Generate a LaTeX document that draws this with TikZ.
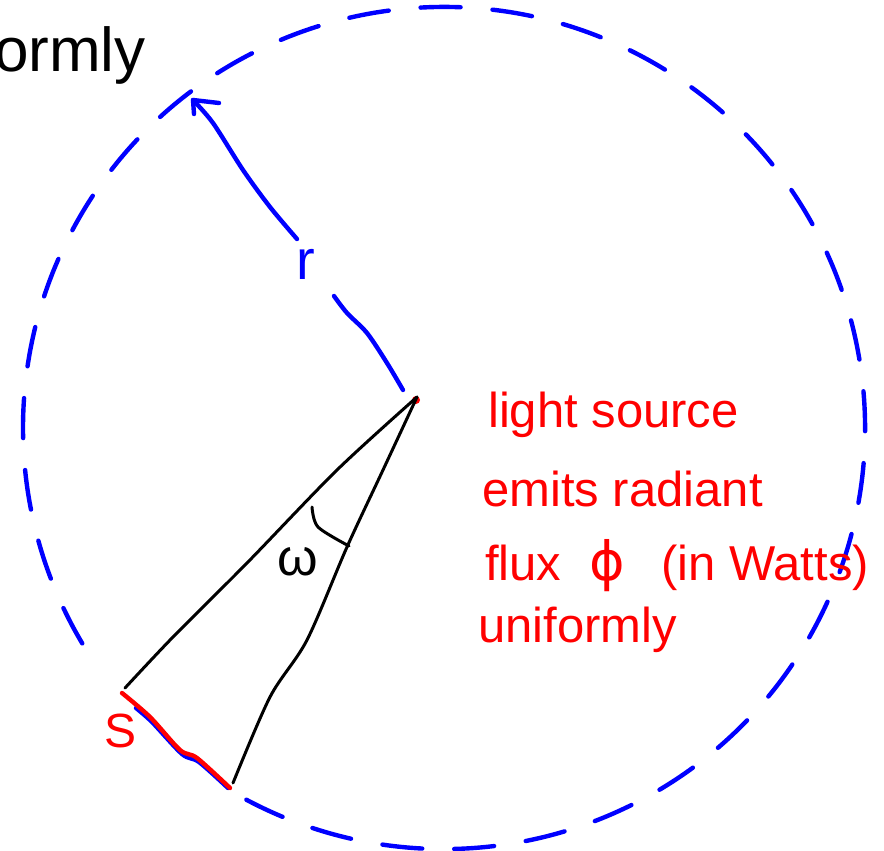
\documentclass[tikz,border=0pt]{standalone}
\usepackage{fontspec}
\setmainfont{Liberation Sans}
\newfontfamily\djsans{DejaVu Sans}
\definecolor{penblue}{RGB}{0,0,255}
\definecolor{penred}{RGB}{255,0,0}
\begin{document}
\begin{tikzpicture}[x=1pt,y=-1pt,line cap=round,line join=round,
  bluepen/.style={draw=penblue,line width=4.4pt},
  blackpen/.style={draw=black,line width=3pt},
  redpen/.style={draw=penred,line width=4.4pt},
  redtext/.style={text=penred,font=\fontsize{49}{60}\selectfont,anchor=base west,inner sep=0pt},
  handlabel/.style={inner sep=0pt}]
\useasboundingbox (0,0) rectangle (884,851);
% sphere (dashed circle)
\coordinate (C) at (444,428);
\draw[bluepen,dash pattern=on 40pt off 32pt] (C) ++(242:421pt) arc[start angle=242,end angle=574,radius=421pt];
% partial word at top-left
\node[anchor=base west,inner sep=0pt,font=\fontsize{62}{66}\selectfont] (word) at (-6,72) {ormly};
% light source
\coordinate (src) at (417,397);
\node[circle,fill=penred,inner sep=0pt,minimum size=8pt] (srcdot) at (416,400) {};
% radius arrow
\coordinate (rlow) at (334,296);
\coordinate (rhigh) at (297,239);
\coordinate (tip) at (193,100);
\node[handlabel,text=penblue,font=\fontsize{56}{60}\selectfont] (rlab) at (306,264) {r};
\draw[bluepen] plot[smooth] coordinates {(403,390) (387,363) (367,333) (347,313) (rlow)};
\draw[bluepen] plot[smooth] coordinates {(rhigh) (270,207) (243,170) (213,123) (tip)};
\draw[bluepen] (194,114) -- (tip) -- (219,103);
% cone
\coordinate (e1) at (125,688);
\coordinate (e2) at (233,783);
\draw[blackpen] plot[smooth] coordinates {(src) (337,470) (247,563) (173,637) (e1)};
\draw[blackpen] plot[smooth] coordinates {(src) (383,470) (347,547) (307,640) (270,697) (e2)};
\draw[blackpen] plot[smooth] coordinates {(312,507) (318,527) (349,546)};
\node[handlabel,font=\fontsize{52}{60}\selectfont] (omega) at (298,562) {ω};
% area S
\draw[bluepen] plot[smooth] coordinates {(136,708) (152,722) (182,754) (199,762) (228,788)};
\draw[redpen] plot[smooth] coordinates {(122,693) (150,717) (180,750) (197,758) (230,788)};
\node[handlabel,text=penred,font=\fontsize{48}{50}\selectfont] (S) at (121,731) {S};
% description
\node[redtext] (t1) at (488,427) {light source};
\node[redtext] (t2) at (482,506) {emits radiant};
\node[redtext] (t3) at (485,580) {flux\hspace{28pt}{\djsans\fontsize{54}{60}\selectfont ϕ}\hspace{36pt}(in Watts)};
\node[redtext] (t4) at (478,642) {uniformly};
\end{tikzpicture}
\end{document}
